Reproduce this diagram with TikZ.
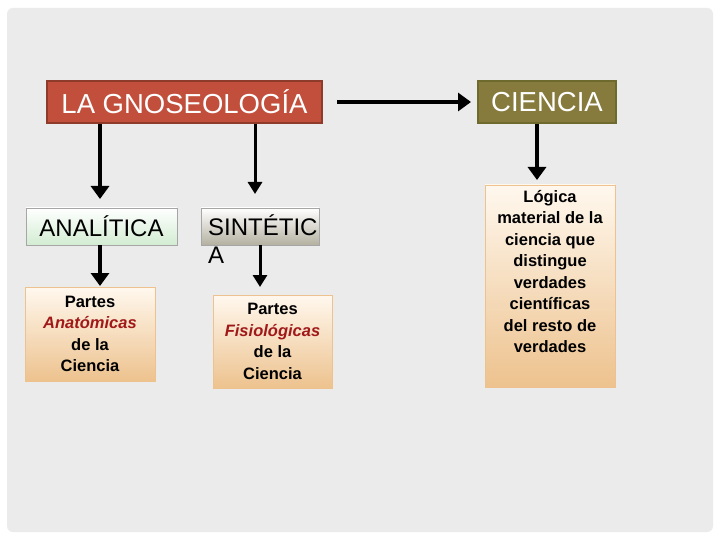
\documentclass[tikz,border=0pt]{standalone}
\usepackage{fontspec}
\setmainfont{Liberation Sans}
\usetikzlibrary{arrows.meta}
\definecolor{bg}{HTML}{EBEBEB}
\definecolor{redbox}{HTML}{C24F3C}
\definecolor{redline}{HTML}{8E3B2C}
\definecolor{olive}{HTML}{867A3C}
\definecolor{oliveline}{HTML}{6E6A2E}
\definecolor{darkred}{HTML}{A01818}
\definecolor{tan}{HTML}{EDC28E}
\definecolor{cream}{HTML}{FFF8EE}
\tikzset{
 titlebox/.style={draw=redline,line width=1.2pt,fill=redbox,text=white,font=\fontsize{27.5}{30}\selectfont},
 catbox/.style={draw=gray!70,line width=0.6pt,font=\fontsize{24}{28}\selectfont},
 notebox/.style={draw=tan,line width=0.6pt,top color=cream,bottom color=tan,font=\bfseries\fontsize{16.5}{21.5}\selectfont,align=center},
 arr/.style={-{Triangle[width=18pt,length=13pt]},line width=4.5pt},
 tarr/.style={-{Triangle[width=14pt,length=12pt]},line width=3pt}
}
\begin{document}
\begin{tikzpicture}[x=1pt,y=-1pt]
\useasboundingbox (0,0) rectangle (720,540);
\fill[white] (0,0) rectangle (720,540);
\fill[bg,rounded corners=6pt] (7,8) rectangle (713,532);
\node[titlebox,minimum width=275pt,minimum height=42pt] (g) at (184.5,102) {LA GNOSEOLOGÍA};
\node[titlebox,fill=olive,draw=oliveline,minimum width=138pt,minimum height=42pt] (c) at (547,102) {CIENCIA};
\node[catbox,top color=white,bottom color=gray!60!green!25,minimum width=151pt,minimum height=37pt] (a) at (101.5,226.5) {ANALÍTICA};
\node[catbox,top color=white,bottom color=olive!45!gray!60,minimum width=118pt,minimum height=37pt] (s) at (260,226.5) {};
\node[font=\fontsize{24}{28}\selectfont,anchor=north west,align=left,inner sep=0pt] (st) at (208,214) {SINTÉTIC\\A};
\node[notebox,minimum width=130pt,minimum height=94pt] (pa) at (90,334) {Partes\\{\color{darkred}\itshape Anatómicas}\\de la\\Ciencia};
\node[notebox,minimum width=119pt,minimum height=93pt] (pf) at (272.5,341.5) {Partes\\{\color{darkred}\itshape Fisiológicas}\\de la\\Ciencia};
\node[notebox,minimum width=130pt,minimum height=202pt] (r) at (550,286) {};
\node[font=\bfseries\fontsize{16.5}{21.5}\selectfont,align=center,anchor=north,inner sep=0pt] (rt) at (550,190) {Lógica\\material de la\\ciencia que\\distingue\\verdades\\científicas\\del resto de\\verdades};
\draw[arr] (g.south -| 100,0) -- (100,199);
\draw[tarr] (g.south -| 255,0) -- (255,194);
\draw[arr] (a.south -| 100,0) -- (100,286);
\draw[tarr] (s.south) -- (260,287);
\draw[arr] (337,102) -- (c.west -| 471,0);
\draw[arr] (c.south -| 537,0) -- (537,180);
\end{tikzpicture}
\end{document}
